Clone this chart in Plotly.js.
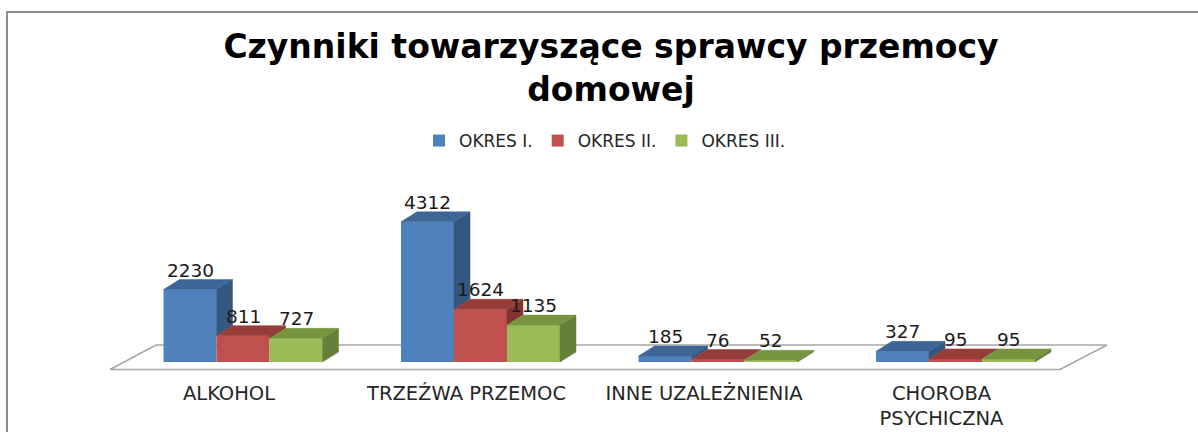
<!DOCTYPE html>
<html>
<head>
<meta charset="utf-8">
<script src="https://cdn.plot.ly/plotly-3.0.1.min.js"></script>
<style>html,body{margin:0;padding:0;background:#fff;}#chart{width:1198px;height:432px;}</style>
</head>
<body>
<div id="chart"></div>
<script>
// ---- data ----
const categories = ['ALKOHOL', 'TRZEŹWA PRZEMOC', 'INNE UZALEŻNIENIA', 'CHOROBA<br>PSYCHICZNA'];
const seriesNames = ['OKRES I.', 'OKRES II.', 'OKRES III.'];
const okres1 = [2230, 4312, 185, 327];
const okres2 = [811, 1624, 76, 95];
const okres3 = [727, 1135, 52, 95];
const series = [okres1, okres2, okres3];

// ---- styles ----
const frontColors = ['#4F81BD', '#C0504D', '#9BBB59'];
const topColors = ['#3D6596', '#963D3A', '#78943F'];
const sideColors = ['#34577F', '#823432', '#66803A'];

const W = 1198, H = 432;
const plotBottomPx = 370;          // pixel of plot area bottom
const pxPerUnitX = 237.5;          // category spacing in px
const zeroPx = 243;                // pixel of first category center
const pxPerValue = 0.0325;         // px per data unit
const baselinePx = 362;            // pixel of value 0
const bw = 53 / pxPerUnitX;        // bar width (category units)
const dx = 16 / pxPerUnitX;        // depth offset x
const dy = 10 / pxPerValue;        // depth offset y (data units)
const labelShift = 14 / pxPerUnitX;

const xRange = [-zeroPx / pxPerUnitX, (W - zeroPx) / pxPerUnitX];
const yRange = [(baselinePx - plotBottomPx) / pxPerValue, baselinePx / pxPerValue];

const idx = categories.map((c, i) => i);
const traces = [];

// front faces (bars)
series.forEach((vals, s) => {
  traces.push({
    type: 'bar',
    name: seriesNames[s],
    x: idx.map(i => i + (s - 1) * bw),
    y: vals,
    width: idx.map(() => bw),
    marker: {color: frontColors[s], line: {width: 0}},
    hoverinfo: 'skip'
  });
});

// side and top faces
series.forEach((vals, s) => {
  const sx = [], sy = [], tx = [], ty = [];
  vals.forEach((v, i) => {
    const x0 = i + (s - 1) * bw - bw / 2;
    const x1 = x0 + bw;
    tx.push(x0, x1, x1 + dx, x0 + dx, x0, null);
    ty.push(v, v, v + dy, v + dy, v, null);
    const next = s < series.length - 1 ? series[s + 1][i] : 0;
    const bot = Math.min(next, v);
    if (v > bot) {
      sx.push(x1, x1 + dx, x1 + dx, x1, x1, null);
      sy.push(bot, bot + dy, v + dy, v, bot, null);
    }
  });
  traces.push({type: 'scatter', mode: 'lines', x: sx, y: sy, fill: 'toself',
    fillcolor: sideColors[s], line: {color: sideColors[s], width: 0.5},
    showlegend: false, hoverinfo: 'skip'});
  traces.push({type: 'scatter', mode: 'lines', x: tx, y: ty, fill: 'toself',
    fillcolor: topColors[s], line: {color: topColors[s], width: 0.5},
    showlegend: false, hoverinfo: 'skip'});
});

// data labels
const annotations = [];
series.forEach((vals, s) => {
  vals.forEach((v, i) => {
    annotations.push({
      x: i + (s - 1) * bw, y: v + dy, xref: 'x', yref: 'y',
      text: String(v), showarrow: false, yanchor: 'bottom', xanchor: 'center',
      yshift: -3,
      font: {family: 'DejaVu Sans', size: 18.5, color: '#1a1a1a'}
    });
  });
});

const px = p => p / W;
const py = p => (plotBottomPx - p) / plotBottomPx;
const floorPath = `M ${px(110)} ${py(369.5)} L ${px(1060)} ${py(369.5)} L ${px(1107)} ${py(345)} L ${px(156)} ${py(345)} Z`;
const framePath = `M ${px(7)} ${py(450)} L ${px(7)} ${py(12)} L ${px(1210)} ${py(12)}`;

const layout = {
  width: W, height: H,
  margin: {l: 0, r: 0, t: 0, b: H - plotBottomPx, pad: 0},
  paper_bgcolor: '#ffffff', plot_bgcolor: 'rgba(0,0,0,0)',
  barmode: 'overlay',
  title: {
    text: 'Czynniki towarzyszące sprawcy przemocy<br>domowej',
    x: 611 / W, xanchor: 'center', y: 1 - 58 / H, yanchor: 'top', yref: 'container',
    font: {family: 'DejaVu Sans', size: 33, color: '#000000', weight: 'bold'}
  },
  showlegend: true,
  legend: {
    orientation: 'h', x: 605 / W, xanchor: 'center', y: py(141), yanchor: 'middle',
    font: {family: 'DejaVu Sans', size: 17, color: '#262626'},
    bgcolor: 'rgba(0,0,0,0)', itemwidth: 30, traceorder: 'normal'
  },
  xaxis: {
    range: xRange, showgrid: false, zeroline: false, showline: false,
    tickvals: idx.map(i => i - labelShift), ticktext: categories, ticks: '',
    ticklabelstandoff: 9,
    tickfont: {family: 'DejaVu Sans', size: 19.5, color: '#262626'},
    fixedrange: true
  },
  yaxis: {
    range: yRange, showgrid: false, zeroline: false, showline: false,
    showticklabels: false, ticks: '', fixedrange: true
  },
  shapes: [
    {type: 'path', xref: 'paper', yref: 'paper', path: floorPath, layer: 'below',
     fillcolor: '#ffffff', line: {color: '#a6a6a6', width: 1.5}},
    {type: 'path', xref: 'paper', yref: 'paper', path: framePath, layer: 'below',
     line: {color: '#8c8c8c', width: 2}}
  ],
  annotations: annotations
};

Plotly.newPlot('chart', traces, layout, {displayModeBar: false, staticPlot: true});
</script>
</body>
</html>
